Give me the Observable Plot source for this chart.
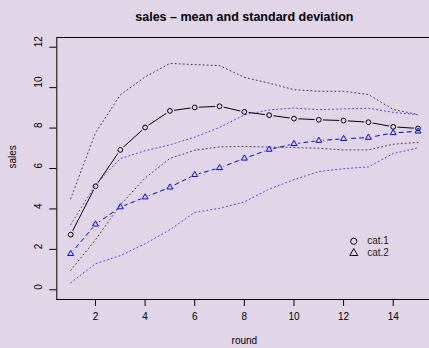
<!DOCTYPE html>
<html><head><meta charset="utf-8">
<script src="https://cdn.jsdelivr.net/npm/d3@7"></script>
<script src="https://cdn.jsdelivr.net/npm/@observablehq/plot@0.6"></script>
<style>html,body{margin:0;padding:0;background:#E0D6E8;overflow:hidden} svg{display:block}</style>
</head><body><div id="chart"></div>
<script>
const rounds = [1,2,3,4,5,6,7,8,9,10,11,12,13,14,15];
const cat1Mean = [2.73,5.12,6.92,8.03,8.85,9.02,9.08,8.80,8.64,8.47,8.41,8.37,8.29,8.06,7.98];
const cat1Sd   = [1.77,2.65,2.72,2.50,2.35,2.12,2.01,1.71,1.58,1.43,1.41,1.45,1.37,0.86,0.69];
const cat2Mean = [1.78,3.24,4.09,4.58,5.07,5.69,6.03,6.50,6.94,7.22,7.38,7.47,7.53,7.76,7.84];
const cat2Sd   = [1.44,1.95,2.40,2.30,2.10,1.86,2.00,2.15,1.96,1.77,1.53,1.48,1.45,1.02,0.82];
const seriesNames = ["cat.1","cat.2"];
const xTicks = [2,4,6,8,10,12,14];
const yTicks = [0,2,4,6,8,10,12];
const titleText = "sales \u2013 mean and standard deviation";
const xLabel = "round";
const yLabel = "sales";
// legend anchor in data units (like R's legend(x, y))
const legendX = 12.41;
const legendY = [2.40, 1.81];

const bg = "#E0D6E8";
const font = "'Liberation Sans', Arial, Helvetica, sans-serif";

const c1 = rounds.map((r,i)=>({round:r, mean:cat1Mean[i], hi:cat1Mean[i]+cat1Sd[i], lo:cat1Mean[i]-cat1Sd[i]}));
const c2 = rounds.map((r,i)=>({round:r, mean:cat2Mean[i], hi:cat2Mean[i]+cat2Sd[i], lo:cat2Mean[i]-cat2Sd[i]}));
const legend = seriesNames.map((s,i)=>({name:s, x:legendX, y:legendY[i], symbol: i===0 ? "circle" : "triangle"}));

const dotted = {strokeWidth: 1, strokeDasharray: "1,3", strokeOpacity: 0.7};

const chart = Plot.plot({
  width: 429, height: 348,
  marginLeft: 56.3, marginRight: -2.4, marginTop: 37, marginBottom: 49,
  style: {background: bg, fontFamily: font, fontSize: "10px", color: "black", overflow: "visible"},
  x: {domain: [0.44, 15.56]},
  y: {domain: [-0.48, 12.48]},
  marks: [
    Plot.frame({stroke: "black"}),
    Plot.axisX({ticks: xTicks, tickSize: 7, tickPadding: 6, label: null, fontSize: 10}),
    Plot.axisY({ticks: yTicks, tickSize: 7, tickFormat: () => "", label: null}),
    Plot.text(yTicks, {y: d => d, text: d => String(d), frameAnchor: "left", dx: -18, rotate: -90, fontSize: 10}),
    Plot.line(c1, {x: "round", y: "mean", stroke: "black", strokeWidth: 1}),
    Plot.line(c2, {x: "round", y: "mean", stroke: "#0000FF", strokeWidth: 1, strokeDasharray: "4,4"}),
    Plot.dot(c1, {x: "round", y: "mean", r: 4.3, fill: bg, stroke: null}),
    Plot.dot(c2, {x: "round", y: "mean", r: 4.3, fill: bg, stroke: null}),
    Plot.line(c1, {x: "round", y: "hi", stroke: "black", ...dotted}),
    Plot.line(c1, {x: "round", y: "lo", stroke: "black", ...dotted}),
    Plot.line(c2, {x: "round", y: "hi", stroke: "#0000FF", ...dotted}),
    Plot.line(c2, {x: "round", y: "lo", stroke: "#0000FF", ...dotted}),
    Plot.dot(c1, {x: "round", y: "mean", r: 2.4, symbol: "circle", stroke: "black", fill: "none", strokeWidth: 1}),
    Plot.dot(c2, {x: "round", y: "mean", r: 2.2, symbol: "triangle", stroke: "#0000FF", fill: "none", strokeWidth: 1}),
    Plot.dot(legend, {x: "x", y: "y", symbol: "symbol", r: d => d.symbol === "circle" ? 2.4 : 2.2, stroke: "black", fill: "none", strokeWidth: 1}),
    Plot.text(legend, {x: "x", y: "y", text: "name", dx: 13.4, textAnchor: "start", fontSize: 10, fill: "#222"}),
    Plot.text([titleText], {frameAnchor: "top", dy: -25, fontWeight: "bold", fontSize: 12.5}),
    Plot.text([xLabel], {frameAnchor: "bottom", dy: 44, fontSize: 10}),
    Plot.text([yLabel], {frameAnchor: "left", dx: -44, rotate: -90, fontSize: 10})
  ]
});
document.getElementById("chart").appendChild(chart);
</script>
</body></html>
